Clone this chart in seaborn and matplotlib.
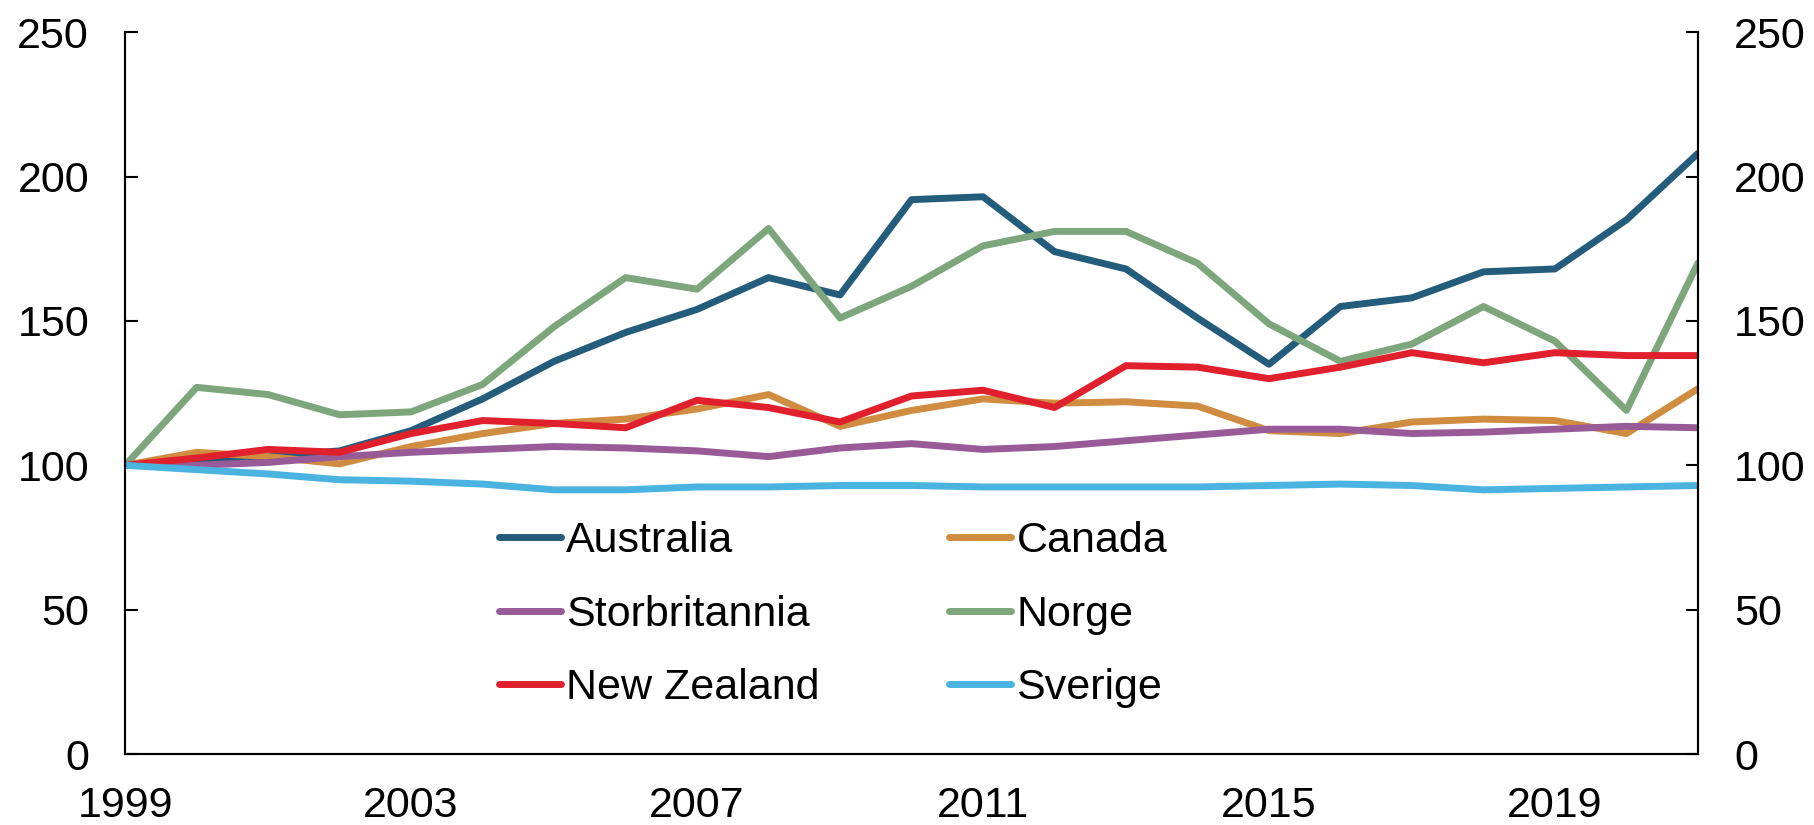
import numpy as np
import pandas as pd
import matplotlib
matplotlib.use('Agg')
import matplotlib.pyplot as plt
import seaborn as sns

## =============================== ##
## data (index, 1999 = 100)

years = list(range(1999, 2022))

australia = [100, 101, 103, 105, 112, 123, 136, 146, 154, 165, 159, 192, 193, 174, 168, 151, 135, 155, 158, 167, 168, 185, 208]
canada = [100, 104.5, 103, 100.5, 106.5, 111, 114.5, 116, 119.5, 124.5, 113.5, 119, 123, 121.5, 122, 120.5, 112, 111, 115, 116, 115.5, 111, 126.5]
storbritannia = [100, 100, 101, 103, 104.5, 105.5, 106.5, 106, 105, 103, 106, 107.5, 105.5, 106.5, 108.5, 110.5, 112.5, 112.5, 111, 111.5, 112.5, 113.5, 113]
norge = [100, 127, 124.5, 117.5, 118.5, 128, 148, 165, 161, 182, 151, 162, 176, 181, 181, 170, 149, 136, 142, 155, 143, 119, 170]
new_zealand = [100, 102.5, 105.5, 104.5, 111, 115.5, 114.5, 113, 122.5, 120, 115, 124, 126, 120, 134.5, 134, 130, 134, 139, 135.5, 139, 138, 138]
sverige = [100, 98.5, 97, 95, 94.5, 93.5, 91.5, 91.5, 92.5, 92.5, 93, 93, 92.5, 92.5, 92.5, 92.5, 93, 93.5, 93, 91.5, 92, 92.5, 93]

countries = ['Australia', 'Canada', 'Storbritannia', 'Norge', 'New Zealand', 'Sverige']
series = [australia, canada, storbritannia, norge, new_zealand, sverige]
colors = ['#245d7c', '#d08c40', '#985b97', '#7da67c', '#e0202d', '#4ab3e0']

yticks = [0, 50, 100, 150, 200, 250]
xticks = [1999, 2003, 2007, 2011, 2015, 2019]

## =============================== ##

df = pd.DataFrame({'year': years * len(countries),
                   'value': sum(series, []),
                   'country': np.repeat(countries, len(years))})

sns.set_style('white')
plt.rcParams['font.family'] = ['Liberation Sans', 'DejaVu Sans']
plt.rcParams['text.color'] = 'black'
plt.rcParams['xtick.color'] = 'black'
plt.rcParams['ytick.color'] = 'black'
FS = 31
LW = 5.

fig = plt.figure(figsize=(18.14, 8.25), dpi=100)
ax = fig.add_axes([0.069, 0.086, 0.867, 0.875])

sns.lineplot(ax=ax, data=df, x='year', y='value', hue='country', hue_order=countries,
             palette=dict(zip(countries, colors)), lw=LW, legend=False)

ax.set_xlim(1999, 2021)
ax.set_ylim(0, 250)
ax.set_xticks(xticks)
ax.set_yticks(yticks)
ax.set_xlabel('')
ax.set_ylabel('')
ax.tick_params(axis='x', direction='in', length=9, width=1.5, labelsize=FS, pad=23)
ax.tick_params(axis='y', direction='in', length=9, width=1.5, labelsize=FS, pad=26)
for s in ['left', 'bottom', 'right']:
	ax.spines[s].set_linewidth(1.5)
	ax.spines[s].set_color('black')
ax.spines['top'].set_visible(False)

ax2 = ax.twinx()
ax2.set_ylim(0, 250)
ax2.set_yticks(yticks)
ax2.tick_params(axis='y', direction='in', length=9, width=1.5, labelsize=FS, pad=26)
for s in ['left', 'bottom', 'right']:
	ax2.spines[s].set_linewidth(1.5)
	ax2.spines[s].set_color('black')
ax2.spines['top'].set_visible(False)

# legend: two columns, row-wise order as in the original
order = [0, 2, 4, 1, 3, 5]
handles = [plt.Line2D([], [], color=colors[i], lw=LW, solid_capstyle='round') for i in order]
labels = [countries[i] for i in order]
ax.legend(handles, labels, ncol=2, frameon=False, fontsize=FS, loc='center',
          bbox_to_anchor=(0.45, 0.193), handlelength=1.45, handletextpad=0.12,
          columnspacing=3.0, labelspacing=0.78)

fig.savefig('out.png', dpi=100)
